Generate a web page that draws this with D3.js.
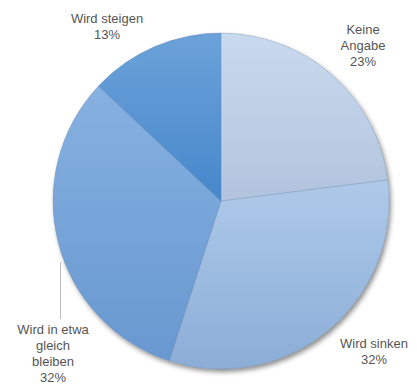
<!DOCTYPE html>
<html>
<head>
<meta charset="utf-8">
<script src="https://cdn.jsdelivr.net/npm/d3@7"></script>
<style>
  html, body { margin: 0; padding: 0; background: #fff; }
  svg { display: block; }
  text { font-family: "Liberation Sans", Arial, sans-serif; font-size: 13px; fill: #555; }
</style>
</head>
<body>
<svg id="chart" width="417" height="384"></svg>
<script>
// Survey answers, clockwise from 12 o'clock
const categories = ["Keine Angabe", "Wird sinken", "Wird in etwa gleich bleiben", "Wird steigen"];
const values = [23, 32, 32, 13];
// Label text lines per category
const labelLines = [
  ["Keine", "Angabe", "23%"],
  ["Wird sinken", "32%"],
  ["Wird in etwa", "gleich", "bleiben", "32%"],
  ["Wird steigen", "13%"]
];

// Slice fills: top and bottom stop of each vertical gradient
const topColors = ["#c9daef", "#aecaea", "#86b1e1", "#6ca2d9"];
const bottomColors = ["#b2c4dd", "#8badd6", "#6898d0", "#4687cb"];
// Label anchor (centre x, first baseline y)
const labelPos = [[363, 34], [374, 348], [53, 334], [107, 23]];
const lineHeight = 16;

const svg = d3.select("#chart");
const cx = 221, cy = 201, radius = 168;

const defs = svg.append("defs");
const shadow = defs.append("filter").attr("id", "shadow")
  .attr("x", "-20%").attr("y", "-20%").attr("width", "140%").attr("height", "140%");
shadow.append("feDropShadow")
  .attr("dx", 2).attr("dy", 3).attr("stdDeviation", 2.5)
  .attr("flood-color", "#000").attr("flood-opacity", 0.45);

categories.forEach((c, i) => {
  const g = defs.append("linearGradient").attr("id", "grad" + i)
    .attr("x1", 0).attr("y1", 0).attr("x2", 0).attr("y2", 1);
  g.append("stop").attr("offset", "0%").attr("stop-color", topColors[i]);
  g.append("stop").attr("offset", "100%").attr("stop-color", bottomColors[i]);
});

const pie = d3.pie().sort(null).value(d => d)
  .startAngle(0).endAngle(2 * Math.PI);
const arcs = pie(values);
const arc = d3.arc().innerRadius(0).outerRadius(radius);

const g = svg.append("g").attr("transform", `translate(${cx},${cy})`);
// shadow backdrop
g.append("circle").attr("r", radius).attr("fill", "#9fb6d6").attr("filter", "url(#shadow)");

g.selectAll("path.slice").data(arcs).join("path")
  .attr("class", "slice")
  .attr("d", arc)
  .attr("fill", (d, i) => `url(#grad${i})`)
  .attr("stroke", "rgba(90,115,150,0.35)")
  .attr("stroke-width", 0.6);

// Labels
const labels = svg.append("g");
labelLines.forEach((lines, i) => {
  const t = labels.append("text")
    .attr("text-anchor", "middle")
    .attr("x", labelPos[i][0]).attr("y", labelPos[i][1]);
  lines.forEach((s, j) => {
    t.append("tspan").attr("x", labelPos[i][0])
      .attr("dy", j === 0 ? 0 : lineHeight).text(s);
  });
});

// Leader line for the long label on the left
const lx = 60.5;
svg.append("line")
  .attr("x1", lx).attr("x2", lx)
  .attr("y1", 262).attr("y2", labelPos[2][1] - 15)
  .attr("stroke", "#bbb").attr("stroke-width", 1);
</script>
</body>
</html>
